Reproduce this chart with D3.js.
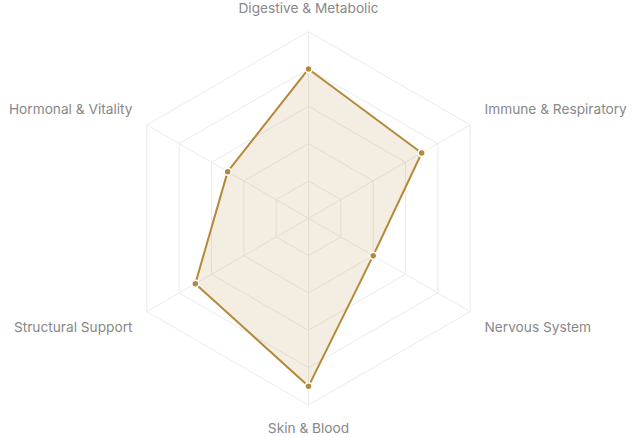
<!DOCTYPE html>
<html>
<head>
<meta charset="utf-8">
<script src="https://cdn.jsdelivr.net/npm/d3@7"></script>
<style>
  html, body { margin: 0; padding: 0; background: #fff; }
  svg { display: block; font-family: Inter, "Noto Sans", sans-serif; }
</style>
</head>
<body>
<div class="chart"></div>
<script>
/* data for the radar */
const axes = ["Digestive & Metabolic", "Immune & Respiratory", "Nervous System",
              "Skin & Blood", "Structural Support", "Hormonal & Vitality"];
const scores = [80, 70, 40, 90, 70, 50];
const levels = [20, 40, 60, 80, 100];

const width = 640, height = 437;
const cx = 308.5, cy = 218.3;
const radius = 186.7;
const mainColor = "#b5893a";

const svg = d3.select(".chart").append("svg")
    .attr("width", width)
    .attr("height", height);

const g = svg.append("g").attr("transform", `translate(${cx},${cy})`);

const r = d3.scaleLinear().domain([0, 100]).range([0, radius]);
const angle = i => (Math.PI * 2 * i) / axes.length; // 0 = up, clockwise

const pt = (i, v) => [r(v) * Math.sin(angle(i)), -r(v) * Math.cos(angle(i))];

// grid rings (hexagons)
const ring = d3.line().curve(d3.curveLinearClosed);
g.selectAll("path.ring")
    .data(levels)
    .enter().append("path")
    .attr("class", "ring")
    .attr("d", lv => ring(axes.map((a, i) => pt(i, lv))))
    .attr("fill", "none")
    .attr("stroke", "#ebebeb")
    .attr("stroke-width", 1);

// spokes
g.selectAll("line.spoke")
    .data(axes)
    .enter().append("line")
    .attr("class", "spoke")
    .attr("x1", 0).attr("y1", 0)
    .attr("x2", (d, i) => pt(i, 100)[0])
    .attr("y2", (d, i) => pt(i, 100)[1])
    .attr("stroke", "#ebebeb")
    .attr("stroke-width", 1);

// data area
const area = axes.map((a, i) => pt(i, scores[i]));
g.append("path")
    .attr("d", ring(area))
    .attr("fill", mainColor)
    .attr("fill-opacity", 0.15)
    .attr("stroke", mainColor)
    .attr("stroke-width", 2)
    .attr("stroke-linejoin", "round");

g.selectAll("circle.dot")
    .data(scores)
    .enter().append("circle")
    .attr("class", "dot")
    .attr("cx", (d, i) => pt(i, d)[0])
    .attr("cy", (d, i) => pt(i, d)[1])
    .attr("r", 3.5)
    .attr("fill", mainColor)
    .attr("stroke", "#fff")
    .attr("stroke-width", 1.5);

// axis labels
g.selectAll("text.label")
    .data(axes)
    .enter().append("text")
    .attr("class", "label")
    .attr("x", (d, i) => {
        const s = Math.sin(angle(i));
        if (Math.abs(s) < 0.01) return 0;
        return s > 0 ? 176 : -176;
    })
    .attr("y", (d, i) => {
        const c = Math.cos(angle(i));
        if (Math.abs(c) > 0.99) return c > 0 ? -210 : 210;
        return c > 0 ? -109 : 109;
    })
    .attr("dy", "0.35em")
    .attr("text-anchor", (d, i) => {
        const s = Math.sin(angle(i));
        if (Math.abs(s) < 0.01) return "middle";
        return s > 0 ? "start" : "end";
    })
    .attr("font-size", 13.7)
    .attr("fill", "#888")
    .text(d => d);
</script>
</body>
</html>
